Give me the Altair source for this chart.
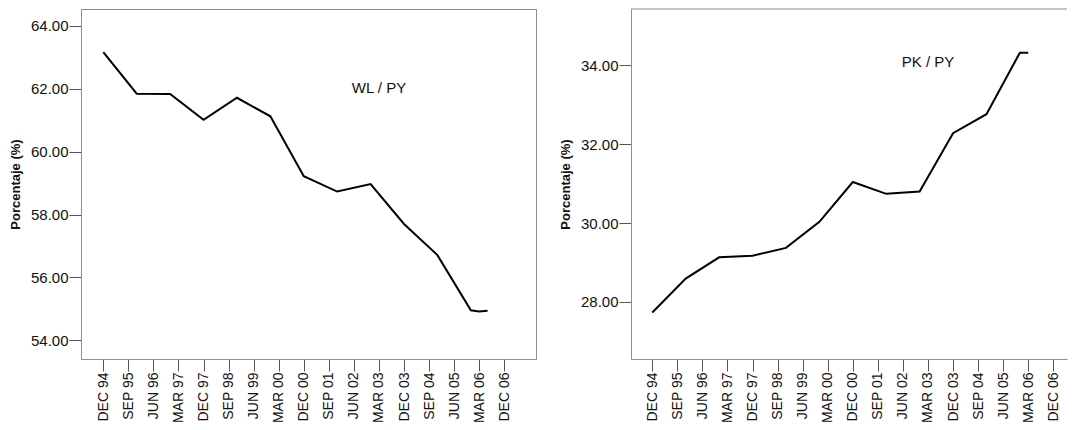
import altair as alt
import pandas as pd

# Quarter index: 0 = DEC 94, 1 = MAR 95, ... 48 = DEC 06
wl_quarter = [0, 4, 8, 12, 16, 20, 24, 28, 32, 36, 40, 44, 45, 46]
wl_value = [63.16, 61.84, 61.83, 61.01, 61.71, 61.12, 59.22, 58.73, 58.97, 57.70, 56.71, 54.96, 54.92, 54.94]

pk_quarter = [0, 4, 8, 12, 16, 20, 24, 28, 32, 36, 40, 44, 45]
pk_value = [27.73, 28.59, 29.13, 29.17, 29.37, 30.03, 31.04, 30.74, 30.80, 32.28, 32.76, 34.32, 34.32]

tick_labels = ["DEC 94", "SEP 95", "JUN 96", "MAR 97", "DEC 97", "SEP 98", "JUN 99",
               "MAR 00", "DEC 00", "SEP 01", "JUN 02", "MAR 03", "DEC 03", "SEP 04",
               "JUN 05", "MAR 06", "DEC 06"]
tick_quarters = [0, 3, 6, 9, 12, 15, 18, 21, 24, 27, 30, 33, 36, 39, 42, 45, 48]

wl_ticks = [54, 56, 58, 60, 62, 64]
pk_ticks = [28, 30, 32, 34]

series_labels = ["WL / PY", "PK / PY"]
label_quarter = [33, 33]
label_value = [62.03, 34.08]

FONT = "Liberation Sans"
FRAME = "#8c8c8c"
H = 350

label_expr = "[" + ",".join("'" + t + "'" for t in tick_labels) + "][round(datum.value / 3)]"


def panel(quarters, values, q_domain, y_domain, y_ticks, text, tq, tv, width, frame_top_rule):
    df = pd.DataFrame({"q": quarters, "v": values})
    x = alt.X("q:Q",
              scale=alt.Scale(domain=q_domain, nice=False, zero=False),
              axis=alt.Axis(values=tick_quarters, tickCount=len(tick_quarters) + 5,
                            labelExpr=label_expr, labelAngle=270,
                            title=None, grid=False, tickSize=12, labelPadding=1,
                            labelOverlap=False, labelFont=FONT, labelFontSize=14,
                            labelColor="#111", domainColor=FRAME, tickColor="#555",
                            labelBound=False, labelFlush=False))
    y = alt.Y("v:Q",
              scale=alt.Scale(domain=y_domain, nice=False, zero=False),
              axis=alt.Axis(values=y_ticks, tickCount=len(y_ticks) + 5, format=".2f",
                            title="Porcentaje (%)",
                            grid=False, tickSize=12, labelPadding=1,
                            labelFont=FONT, labelFontSize=15, labelColor="#111",
                            titleFont=FONT, titleFontSize=13, titleFontWeight="bold",
                            titleColor="#111", titlePadding=8,
                            domainColor=FRAME, tickColor="#555"))
    line = alt.Chart(df).mark_line(color="black", strokeWidth=2).encode(x=x, y=y)
    tdf = pd.DataFrame({"q": [tq], "v": [tv], "t": [text]})
    txt = alt.Chart(tdf).mark_text(font=FONT, fontSize=15, color="#111",
                                   align="center", baseline="middle").encode(
        x=x, y=y, text="t:N")
    layers = [line, txt]
    if frame_top_rule:
        rdf = pd.DataFrame({"a": [0]})
        rule = alt.Chart(rdf).mark_rule(color=FRAME, strokeWidth=1).encode(
            x=alt.value(0), x2=alt.value(width), y=alt.value(0))
        layers.append(rule)
    ch = alt.layer(*layers).properties(width=width, height=H)
    if frame_top_rule:
        ch = ch.properties(view=alt.ViewBackground(stroke="transparent"))
    return ch


left = panel(wl_quarter, wl_value, [-2.67, 51.8], [53.41, 64.53], wl_ticks,
             series_labels[0], label_quarter[0], label_value[0], 455, False)
right = panel(pk_quarter, pk_value, [-2.55, 49.64], [26.55, 35.43], pk_ticks,
              series_labels[1], label_quarter[1], label_value[1], 436, True)

chart = alt.hconcat(left, right, spacing=21).properties(
    padding={"left": 0, "top": 0, "right": 0, "bottom": 0}
).configure_view(stroke=FRAME, strokeWidth=1)

chart.save("out.html", embed_options={"renderer": "svg", "actions": False})
